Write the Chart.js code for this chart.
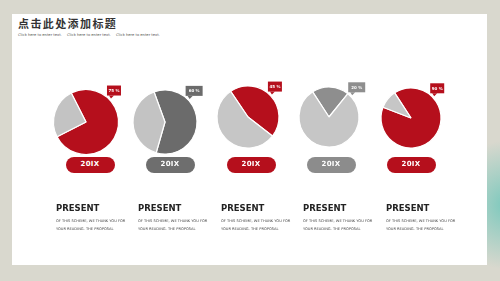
<!DOCTYPE html>
<html>
<head>
<meta charset="utf-8">
<script src="https://cdn.jsdelivr.net/npm/chart.js@4.4.1/dist/chart.umd.min.js"></script>
<style>
html, body { margin: 0; padding: 0; }
body {
    width: 500px; height: 281px; position: relative; overflow: hidden;
    background: #d9d8ce;
    font-family: "DejaVu Sans", sans-serif;
}
.wash {
    position: absolute; left: 450px; top: 140px; width: 110px; height: 130px;
    background: radial-gradient(ellipse at 50% 50%, rgba(120, 200, 188, 0.95), rgba(120, 200, 188, 0) 70%);
}
.panel { position: absolute; left: 12px; top: 14px; width: 475px; height: 251px; background: #fff; }
.title {
    position: absolute; left: 18px; top: 15px;
    font-family: "Noto Sans CJK SC", sans-serif; font-weight: 700;
    font-size: 11px; letter-spacing: 1.4px; color: #333; line-height: 16px;
}
.sub { position: absolute; top: 32.5px; font-size: 3.7px; color: #555; white-space: nowrap; }
.box { position: absolute; width: 100px; height: 100px; }
.pill {
    position: absolute; top: 157px; width: 49px; height: 15.5px; border-radius: 8px;
    color: #fff; font-weight: 700; font-size: 7px; line-height: 15.5px; text-align: center;
    letter-spacing: 0.3px;
}
.head { position: absolute; top: 203.5px; font-weight: 700; font-size: 8.5px; line-height: 1; color: #222; }
.body { position: absolute; top: 216.5px; font-size: 3.6px; line-height: 8.5px; color: #444; white-space: nowrap; }
</style>
</head>
<body>
<div class="wash"></div>
<div class="panel"></div>
<div class="title">点击此处添加标题</div>
<div class="sub" style="left:18px">Click here to enter text.</div>
<div class="sub" style="left:67px">Click here to enter text.</div>
<div class="sub" style="left:116px">Click here to enter text.</div>
<div id="charts"></div>

<script>
// chart data
const categories = ['20IX', '20IX', '20IX', '20IX', '20IX'];
const shares = [75, 60, 45, 20, 90];
const shareLabels = ['75 %', '60 %', '45 %', '20 %', '90 %'];
const heads = ['PRESENT', 'PRESENT', 'PRESENT', 'PRESENT', 'PRESENT'];
const bodyLines = ['OF THIS SCHEME, WE THANK YOU FOR', 'YOUR READING. THE PROPOSAL'];

// looks
const mainColors = ['#b50f1c', '#6b6b6b', '#b50f1c', '#8e8e8e', '#b50f1c'];
const restColors = ['#c3c3c3', '#c3c3c3', '#c6c6c6', '#c6c6c6', '#c6c6c6'];
const pillColors = ['#b50f1c', '#6e6e6e', '#b50f1c', '#8c8c8c', '#b50f1c'];
const centers = [[86, 122], [164.5, 121.5], [248, 117], [329, 117], [411, 118]];
const radii = [32.5, 32, 31, 30, 30];
const rotations = [-27, -20, -34, -33, -33];
const pillX = [90, 170, 251, 331, 411];
const textX = [56, 138, 221, 303, 386];

const callout = {
    id: 'callout',
    afterDatasetsDraw(chart, args, opts) {
        const arc = chart.getDatasetMeta(0).data[0];
        const ctx = chart.ctx;
        const tx = arc.x + arc.outerRadius * 0.707;
        const ty = arc.y - arc.outerRadius * 0.707;
        const w = opts.width, h = 10;
        const left = tx - 2, top = ty - 3.5 - h;
        ctx.save();
        ctx.fillStyle = opts.color;
        ctx.fillRect(left, top, w, h);
        ctx.beginPath();
        ctx.moveTo(left + 2, top + h);
        ctx.lineTo(left + 7, top + h);
        ctx.lineTo(left + 4, top + h + 3);
        ctx.closePath();
        ctx.fill();
        ctx.fillStyle = '#fff';
        ctx.font = 'bold 4px "DejaVu Sans"';
        ctx.textAlign = 'center';
        ctx.textBaseline = 'middle';
        ctx.fillText(opts.text, left + w / 2, top + h / 2 + 0.3);
        ctx.restore();
    }
};

const holder = document.getElementById('charts');

for (let i = 0; i < shares.length; i++) {
    const box = document.createElement('div');
    box.className = 'box';
    box.style.left = (centers[i][0] - 50) + 'px';
    box.style.top = (centers[i][1] - 50) + 'px';
    const canvas = document.createElement('canvas');
    box.appendChild(canvas);
    holder.appendChild(box);

    new Chart(canvas, {
        type: 'pie',
        data: {
            labels: [categories[i], ''],
            datasets: [{
                data: [shares[i], 100 - shares[i]],
                backgroundColor: [mainColors[i], restColors[i]],
                borderColor: '#fff',
                borderWidth: 1.2
            }]
        },
        options: {
            responsive: true,
            maintainAspectRatio: false,
            animation: false,
            radius: radii[i],
            rotation: rotations[i],
            layout: { padding: 0 },
            plugins: {
                legend: { display: false },
                tooltip: { enabled: false },
                callout: { text: shareLabels[i], color: mainColors[i], width: i % 2 ? 17 : 14 }
            }
        },
        plugins: [callout]
    });

    const pill = document.createElement('div');
    pill.className = 'pill';
    pill.style.left = (pillX[i] - 24.5) + 'px';
    pill.style.background = pillColors[i];
    pill.textContent = categories[i];
    document.body.appendChild(pill);

    const head = document.createElement('div');
    head.className = 'head';
    head.style.left = textX[i] + 'px';
    head.textContent = heads[i];
    document.body.appendChild(head);

    const body = document.createElement('div');
    body.className = 'body';
    body.style.left = textX[i] + 'px';
    body.innerHTML = bodyLines.join('<br>');
    document.body.appendChild(body);
}
</script>
</body>
</html>
